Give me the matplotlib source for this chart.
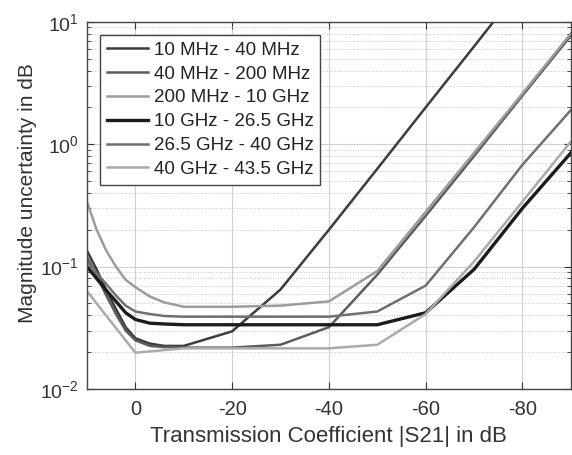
import matplotlib
matplotlib.use("Agg")
import matplotlib.pyplot as plt
from matplotlib.ticker import LogLocator, FixedLocator, NullFormatter

plt.rcParams['font.family'] = ['Liberation Sans', 'DejaVu Sans']
plt.rcParams['mathtext.fontset'] = 'custom'
plt.rcParams['mathtext.rm'] = 'Liberation Sans'
plt.rcParams['axes.unicode_minus'] = False

labels = ["10 MHz - 40 MHz", "40 MHz - 200 MHz", "200 MHz - 10 GHz",
          "10 GHz - 26.5 GHz", "26.5 GHz - 40 GHz", "40 GHz - 43.5 GHz"]

x_fine = [10, 8, 6, 4, 2, 0, -3, -6, -10, -20, -30, -40, -50, -60, -70, -80, -90]
a_vals = [0.135, 0.095, 0.064, 0.045, 0.032, 0.026, 0.0235, 0.0225, 0.0225,
          0.0296, 0.065, 0.2, 0.63, 2.0, 6.3, 20, 63]
b_vals = [0.12, 0.085, 0.058, 0.041, 0.030, 0.025, 0.0225, 0.022, 0.0218,
          0.0218, 0.023, 0.032, 0.086, 0.26, 0.8, 2.5, 7.7]
c_vals = [0.34, 0.2, 0.135, 0.1, 0.078, 0.068, 0.057, 0.051, 0.047,
          0.047, 0.048, 0.052, 0.092, 0.28, 0.85, 2.6, 8.0]
d_vals = [0.10, 0.08, 0.064, 0.052, 0.042, 0.037, 0.0345, 0.034, 0.0335,
          0.0335, 0.0335, 0.0335, 0.0335, 0.042, 0.095, 0.30, 0.85]
e_vals = [0.11, 0.088, 0.072, 0.058, 0.048, 0.043, 0.041, 0.0395, 0.039,
          0.039, 0.039, 0.039, 0.043, 0.07, 0.21, 0.68, 1.9]
x_f = [10, 0, -10, -20, -30, -40, -50, -60, -70, -80, -90]
f_vals = [0.063, 0.0198, 0.0215, 0.0215, 0.0215, 0.0215, 0.023, 0.041, 0.11, 0.34, 1.05]

colors = ['#3c3c3c', '#5c5c5c', '#9c9c9c', '#1c1c1c', '#707070', '#ababab']
widths = [1.8, 1.8, 1.8, 2.4, 1.8, 1.8]

fig = plt.figure(figsize=(5.72, 4.55), dpi=100)
ax = fig.add_axes([0.152, 0.145, 0.846, 0.807])

series = [(x_fine, a_vals), (x_fine, b_vals), (x_fine, c_vals),
          (x_fine, d_vals), (x_fine, e_vals), (x_f, f_vals)]
for (xs, ys), lab, col, lw in zip(series, labels, colors, widths):
    ax.plot(xs, ys, color=col, lw=lw, label=lab)

ax.set_yscale('log')
ax.set_xlim(10, -90)
ax.set_ylim(1e-2, 1e1)
ax.xaxis.set_major_locator(FixedLocator([0, -20, -40, -60, -80]))
ax.yaxis.set_minor_locator(LogLocator(base=10, subs=range(2, 10)))
ax.yaxis.set_minor_formatter(NullFormatter())

ax.grid(True, which='major', color='#d0d0d0', lw=0.8, ls='-')
ax.grid(True, which='minor', axis='y', color='#c8c8c8', lw=0.7, ls=':')
ax.tick_params(direction='in', which='both', labelsize=14.5, colors='#333333',
               top=True, right=True)
ax.tick_params(axis='x', which='major', pad=8)
ax.tick_params(axis='y', which='major', pad=6, labelsize=14)
ax.tick_params(which='major', length=5)
ax.tick_params(which='minor', length=3)
for s in ax.spines.values():
    s.set_color('#444444')
    s.set_linewidth(1.0)

ax.set_xlabel('Transmission Coefficient |S21| in dB', fontsize=16, color='#333333', labelpad=5)
ax.set_ylabel('Magnitude uncertainty in dB', fontsize=15, color='#333333')
ax.yaxis.set_label_coords(-0.104, 0.535)

leg = ax.legend(loc='upper left', fontsize=13.5, frameon=True, fancybox=False,
                edgecolor='#444444', framealpha=1, handlelength=2.2,
                labelspacing=0.36, borderpad=0.35, handletextpad=0.3,
                borderaxespad=0.7)
leg.get_frame().set_linewidth(1.0)
for t in leg.get_texts():
    t.set_color('#222222')

fig.savefig('out.png', dpi=100)
